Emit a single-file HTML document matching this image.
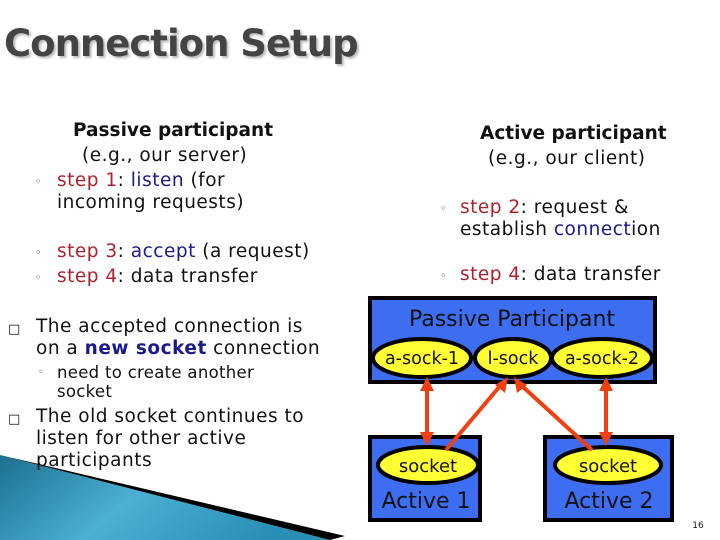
<!DOCTYPE html>
<html><head><meta charset="utf-8"><style>
body{margin:0;width:720px;height:540px;position:relative;overflow:hidden;background:#fff;font-family:"DejaVu Sans","Liberation Sans",sans-serif;}
.t{position:absolute;white-space:nowrap;font-size:18.5px;line-height:21px;color:#111;letter-spacing:0.5px}
.r{color:#b0202a}.b{color:#1a1a8c}
.s{font-size:16.5px;line-height:19px;letter-spacing:0.3px}
.d{position:absolute;font-size:11px;color:#333}
h1{position:absolute;left:4px;top:22px;margin:0;font-size:37px;font-weight:bold;color:#444;text-shadow:2px 2px 2px #bbb;letter-spacing:-1px;white-space:nowrap}
.dg{position:absolute;left:0;top:0}
</style></head><body>
<svg class="dg" width="720" height="540">
<defs><linearGradient id="g" x1="0" y1="0" x2="1" y2="0.3"><stop offset="0" stop-color="#1c6f8f"/><stop offset="0.5" stop-color="#4ab0d4"/><stop offset="1" stop-color="#2a8fb5"/></linearGradient></defs>
<polygon points="0,455 330,540 0,540" fill="url(#g)"/>
<polygon points="30,462 345,536 330,540 0,455" fill="#000"/>
<rect x="370" y="298" width="285" height="84" fill="#3d6ef2" stroke="#000" stroke-width="4"/>
<rect x="370" y="437" width="110" height="83" fill="#3d6ef2" stroke="#000" stroke-width="4"/>
<rect x="545" y="437" width="127" height="83" fill="#3d6ef2" stroke="#000" stroke-width="4"/>
<g fill="#ffff33" stroke="#000" stroke-width="4">
<ellipse cx="422" cy="358" rx="49" ry="19"/>
<ellipse cx="513" cy="358" rx="38" ry="19"/>
<ellipse cx="602" cy="358" rx="50" ry="19"/>
<ellipse cx="428" cy="465" rx="50" ry="18"/>
<ellipse cx="608" cy="465" rx="53" ry="18"/>
</g>
<g font-family="'DejaVu Sans',sans-serif" fill="#111" text-anchor="middle">
<text x="512" y="326" font-size="22">Passive Participant</text>
<text x="422" y="364" font-size="17.5">a-sock-1</text>
<text x="513" y="364" font-size="17.5">l-sock</text>
<text x="602" y="364" font-size="17.5">a-sock-2</text>
<text x="428" y="472" font-size="18">socket</text>
<text x="608" y="472" font-size="18">socket</text>
<text x="426" y="508" font-size="22">Active 1</text>
<text x="609" y="508" font-size="22">Active 2</text>
<text x="698" y="528" font-size="9">16</text>
</g>
<g stroke="#f04010" stroke-width="4" fill="#f04010">
<line x1="427" y1="388" x2="427" y2="434"/>
<line x1="606" y1="388" x2="606" y2="434"/>
<line x1="446" y1="450" x2="500" y2="386"/>
<line x1="592" y1="450" x2="522" y2="386"/>
</g>
<g fill="#f04010">
<polygon points="427,377 420,391 434,391"/><polygon points="427,446 420,432 434,432"/>
<polygon points="606,377 599,391 613,391"/><polygon points="606,446 599,432 613,432"/>
<polygon points="508,377 495,385 505,393"/>
<polygon points="514,377 517,393 527,385"/>
</g>
</svg>
<h1>Connection Setup</h1>
<div class="t" style="left:73px;top:120px;font-weight:bold;letter-spacing:0">Passive participant</div>
<div class="t" style="left:82px;top:145px">(e.g., our server)</div>
<div class="d" style="left:35px;top:175px">◦</div>
<div class="t" style="left:57px;top:170px"><span class="r">step 1</span>: <span class="b">listen</span> (for</div>
<div class="t" style="left:57px;top:192px">incoming requests)</div>
<div class="d" style="left:35px;top:246px">◦</div>
<div class="t" style="left:57px;top:241px"><span class="r">step 3</span>: <span class="b">accept</span> (a request)</div>
<div class="d" style="left:35px;top:271px">◦</div>
<div class="t" style="left:57px;top:266px"><span class="r">step 4</span>: data transfer</div>
<div class="t" style="left:480px;top:123px;font-weight:bold;letter-spacing:0">Active participant</div>
<div class="t" style="left:488px;top:148px">(e.g., our client)</div>
<div class="d" style="left:440px;top:202px">◦</div>
<div class="t" style="left:460px;top:197px"><span class="r">step 2</span>: request &amp;</div>
<div class="t" style="left:460px;top:219px">establish <span class="b">connect</span>ion</div>
<div class="d" style="left:440px;top:269px">◦</div>
<div class="t" style="left:460px;top:264px"><span class="r">step 4</span>: data transfer</div>
<div class="t" style="left:8px;top:317px"><span style="font-size:13px">□</span></div>
<div class="t" style="left:36px;top:316px">The accepted connection is</div>
<div class="t" style="left:36px;top:338px">on a <b class="b">new socket</b> connection</div>
<div class="d" style="left:38px;top:367px;font-size:10px">◦</div>
<div class="t s" style="left:57px;top:363px">need to create another</div>
<div class="t s" style="left:57px;top:382px">socket</div>
<div class="t" style="left:8px;top:407px"><span style="font-size:13px">□</span></div>
<div class="t" style="left:36px;top:406px">The old socket continues to</div>
<div class="t" style="left:36px;top:428px">listen for other active</div>
<div class="t" style="left:36px;top:450px">participants</div>
</body></html>
